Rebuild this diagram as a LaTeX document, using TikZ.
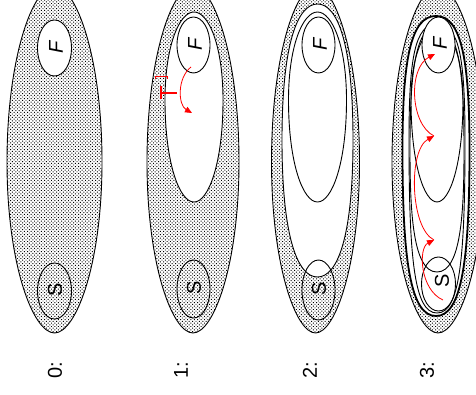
\documentclass[tikz,border=0pt]{standalone}
\usepackage{fontspec}
\setmainfont{Liberation Sans}
\usetikzlibrary{arrows.meta,patterns}

% fine stipple used for the shaded regions
\pgfdeclarepatternformonly{finedots}{\pgfqpoint{-0.1pt}{-0.1pt}}{\pgfqpoint{3.5pt}{3.5pt}}{\pgfqpoint{3.4pt}{3.4pt}}{%
  \pgfpathrectangle{\pgfqpoint{0pt}{0pt}}{\pgfqpoint{0.95pt}{0.95pt}}%
  \pgfpathrectangle{\pgfqpoint{1.7pt}{1.7pt}}{\pgfqpoint{0.95pt}{0.95pt}}%
  \pgfusepath{fill}}

% closed oval: centre x, top y, y of widest point, bottom y, half width,
% tip factor, side factor
\newcommand\blob[7]{%
  ({#1},{#2})
  .. controls ({#1+(#6)*(#5)},{#2}) and ({#1+(#5)},{#3-(#7)*(#3-(#2))}) .. ({#1+(#5)},{#3})
  .. controls ({#1+(#5)},{#3+(#7)*(#4-(#3))}) and ({#1+(#6)*(#5)},{#4}) .. ({#1},{#4})
  .. controls ({#1-(#6)*(#5)},{#4}) and ({#1-(#5)},{#3+(#7)*(#4-(#3))}) .. ({#1-(#5)},{#3})
  .. controls ({#1-(#5)},{#3-(#7)*(#3-(#2))}) and ({#1-(#6)*(#5)},{#2}) .. ({#1},{#2}) -- cycle}

\tikzset{
  region/.style={draw=black, line width=0.9pt, pattern=finedots},
  hole/.style={draw=black, line width=0.9pt, fill=white},
  ring/.style={draw=black, line width=0.9pt},
  thickring/.style={draw=black, line width=1.8pt, fill=white},
  lbl/.style={rotate=90, inner sep=0pt, font=\fontsize{20}{20}\selectfont},
  push/.style={red, line width=0.8pt, -{Triangle[length=7pt,width=6pt]}},
  block/.style={red, line width=2.6pt},
  tick/.style={red, line width=0.6pt}
}

\begin{document}
\begin{tikzpicture}[x=1pt, y=-1pt]
\clip (0,0) rectangle (476,395);
\fill[white] (0,0) rectangle (476,395);

% ---------- stage 0 ----------
\draw[region] \blob{54.5}{-14}{162}{333}{47.5}{0.45}{0.6};
\draw[hole] (54.5,48) ellipse [x radius=17, y radius=28];
\draw[ring] (54.5,291) ellipse [x radius=17, y radius=28];
\node[lbl] (f0) at (56,47) {\itshape F};
\node[lbl] (s0) at (55,290) {S};
\node[lbl] (l0) at (55,370) {0:};

% ---------- stage 1 ----------
\draw[region] \blob{193}{-14}{162}{333}{46}{0.45}{0.6};
\draw[hole] \blob{194}{12}{100}{202}{29}{0.5}{0.62};
\draw[hole] (193.5,45) ellipse [x radius=16.5, y radius=28];
\draw[ring] (193.5,289) ellipse [x radius=16.5, y radius=29];
\node[lbl] (f1) at (195,44) {\itshape F};
\node[lbl] (s1) at (194,288) {S};
\node[lbl] (l1) at (181,370) {1:};
\coordinate (p1a) at (191,67);
\coordinate (p1b) at (192,113);
\draw[push] (p1a) .. controls (177,78) and (178,105) .. (p1b);
\coordinate (t1a) at (161,86);
\coordinate (t1b) at (161,99);
\coordinate (t1c) at (161,93);
\coordinate (t1d) at (177,93);
\draw[block] (t1a) -- (t1b);
\draw[block] (t1c) -- (t1d);
\coordinate (k1a) at (155,79);
\coordinate (k1b) at (167,79);
\draw[tick] (k1a) -- (155,76) -- (167,76) -- (k1b);

% ---------- stage 2 ----------
\draw[region] \blob{315.5}{-14}{162}{333}{44}{0.45}{0.6};
\draw[hole] \blob{317.5}{4}{140}{277}{35.5}{0.55}{0.72};
\draw[ring] \blob{317.5}{12}{100}{202}{29}{0.5}{0.62};
\draw[hole] (318.5,45) ellipse [x radius=16.5, y radius=28];
\draw[ring] (318.5,290) ellipse [x radius=16.5, y radius=30];
\node[lbl] (f2) at (320,44) {\itshape F};
\node[lbl] (s2) at (319,289) {S};
\node[lbl] (l2) at (310,370) {2:};

% ---------- stage 3 ----------
\draw[region] \blob{438}{-14}{162}{333}{46}{0.45}{0.6};
\draw[thickring] \blob{436}{16}{150}{316}{33.5}{0.75}{0.68};
\draw[ring] \blob{437}{24}{140}{313}{28}{0.8}{0.7};
\draw[ring] \blob{437}{26}{150}{272}{27}{0.9}{0.5};
\draw[ring] \blob{437}{28}{100}{202}{26}{0.5}{0.62};
\draw[hole] (438.5,45) ellipse [x radius=16.5, y radius=28];
\draw[ring] (438.5,284) ellipse [x radius=17, y radius=27];
\node[lbl] (f3) at (440,43) {\itshape F};
\node[lbl] (s3) at (442,281) {S};
\node[lbl] (l3) at (427,370) {3:};
\coordinate (q0) at (443,300);
\coordinate (q1) at (434,240);
\coordinate (q2) at (434,136);
\coordinate (q3) at (435,54);
\draw[push] (q0) .. controls (420,290) and (418,248) .. (q1);
\draw[push] (q1) .. controls (410,228) and (408,150) .. (q2);
\draw[push] (q2) .. controls (410,124) and (408,68) .. (q3);
\end{tikzpicture}
\end{document}
